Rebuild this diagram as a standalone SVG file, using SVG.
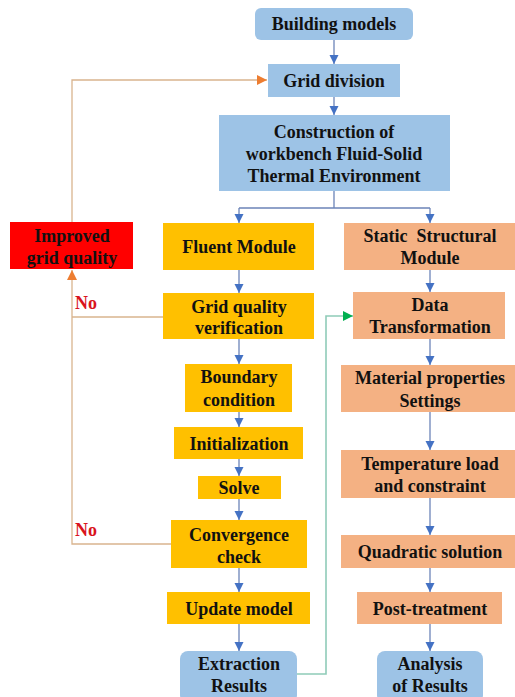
<svg xmlns="http://www.w3.org/2000/svg" width="515" height="697" viewBox="0 0 515 697">
<style>
text{font-family:'Liberation Serif','Times New Roman',serif;font-weight:bold;font-size:18px;fill:#111;text-anchor:middle;white-space:pre}
.blue{fill:#9DC3E6}
.yel{fill:#FFC000}
.sal{fill:#F4B183}
.red{fill:#FF0000}
.no{fill:#D9141C;text-anchor:start;font-size:18px}
.c{fill:none;stroke:#6C84B8;stroke-width:1.3}
.o{fill:none;stroke:#D9B48E;stroke-width:1.3}
.g{fill:none;stroke:#8FCBB8;stroke-width:1.6}
</style>
<defs>
<marker id="ab" markerWidth="10" markerHeight="10" refX="9" refY="5" orient="auto" markerUnits="userSpaceOnUse"><path d="M0,0.5 L9,5 L0,9.5 Z" fill="#4472C4"/></marker>
<marker id="ao" markerWidth="12" markerHeight="12" refX="10" refY="6" orient="auto" markerUnits="userSpaceOnUse"><path d="M0,1 L10,6 L0,11 Z" fill="#ED7D31"/></marker>
<marker id="ag" markerWidth="12" markerHeight="12" refX="10" refY="6" orient="auto" markerUnits="userSpaceOnUse"><path d="M0,1 L10,6 L0,11 Z" fill="#00B050"/></marker>
</defs>
<rect width="515" height="697" fill="#fff"/>
<g id="connectors">
<path class="c" d="M334,40 V64" marker-end="url(#ab)"/>
<path class="c" d="M334,97 V115" marker-end="url(#ab)"/>
<path class="c" d="M334,191 V208 M239,208 H430"/>
<path class="c" d="M239,208 V223" marker-end="url(#ab)"/>
<path class="c" d="M430,208 V223" marker-end="url(#ab)"/>
<path class="c" d="M239,270 V293" marker-end="url(#ab)"/>
<path class="c" d="M239,339 V364" marker-end="url(#ab)"/>
<path class="c" d="M239,412 V427" marker-end="url(#ab)"/>
<path class="c" d="M239,459 V476" marker-end="url(#ab)"/>
<path class="c" d="M239,499 V520" marker-end="url(#ab)"/>
<path class="c" d="M239,568 V592" marker-end="url(#ab)"/>
<path class="c" d="M239,624 V651" marker-end="url(#ab)"/>
<path class="c" d="M430,270 V292" marker-end="url(#ab)"/>
<path class="c" d="M430,339 V365" marker-end="url(#ab)"/>
<path class="c" d="M430,412 V450" marker-end="url(#ab)"/>
<path class="c" d="M430,498 V535" marker-end="url(#ab)"/>
<path class="c" d="M430,568 V592" marker-end="url(#ab)"/>
<path class="c" d="M430,624 V651" marker-end="url(#ab)"/>
<path class="o" d="M163,317 H72"/>
<path class="o" d="M171,544 H72 V270" marker-end="url(#ao)"/>
<path class="o" d="M72,222 V80 H267" marker-end="url(#ao)"/>
<path class="g" d="M297,674 H326 V316 H353" marker-end="url(#ag)"/>
<text class="no" x="75" y="309">No</text>
<text class="no" x="75" y="536">No</text>
</g>
<g id="building-models"><rect class="blue" x="255" y="8" width="158" height="32" rx="6"/><text x="334" y="30">Building models</text></g>
<g id="grid-division"><rect class="blue" x="268" y="64" width="132" height="33"/><text x="334" y="87">Grid division</text></g>
<g id="construction"><rect class="blue" x="219" y="115" width="231" height="76"/><text x="334" y="138">Construction of</text><text x="334" y="160">workbench Fluid-Solid</text><text x="334" y="182">Thermal Environment</text></g>
<g id="improved-grid"><rect class="red" x="10" y="222" width="123" height="47"/><text x="72" y="242">Improved</text><text x="72" y="264">grid quality</text></g>
<g id="fluent-module"><rect class="yel" x="163" y="223" width="151" height="47"/><text x="239" y="253">Fluent Module</text></g>
<g id="static-structural"><rect class="sal" x="344" y="223" width="171" height="47"/><text x="430" y="242">Static  Structural</text><text x="430" y="264">Module</text></g>
<g id="grid-quality-verification"><rect class="yel" x="163" y="293" width="151" height="46"/><text x="239" y="313">Grid quality</text><text x="239" y="334">verification</text></g>
<g id="data-transformation"><rect class="sal" x="353" y="292" width="152" height="47"/><text x="430" y="311">Data</text><text x="430" y="333">Transformation</text></g>
<g id="boundary-condition"><rect class="yel" x="185" y="364" width="107" height="48"/><text x="239" y="383">Boundary</text><text x="239" y="406">condition</text></g>
<g id="material-properties"><rect class="sal" x="341" y="365" width="174" height="47"/><text x="430" y="384">Material properties</text><text x="430" y="407">Settings</text></g>
<g id="initialization"><rect class="yel" x="174" y="427" width="129" height="32"/><text x="239" y="450">Initialization</text></g>
<g id="temperature-load"><rect class="sal" x="341" y="450" width="174" height="48"/><text x="430" y="470">Temperature load</text><text x="430" y="492">and constraint</text></g>
<g id="solve"><rect class="yel" x="198" y="476" width="83" height="23"/><text x="239" y="494">Solve</text></g>
<g id="convergence-check"><rect class="yel" x="171" y="520" width="136" height="48"/><text x="239" y="541">Convergence</text><text x="239" y="563">check</text></g>
<g id="quadratic-solution"><rect class="sal" x="341" y="535" width="174" height="33"/><text x="430" y="558">Quadratic solution</text></g>
<g id="update-model"><rect class="yel" x="167" y="592" width="143" height="32"/><text x="239" y="615">Update model</text></g>
<g id="post-treatment"><rect class="sal" x="357" y="592" width="145" height="32"/><text x="430" y="615">Post-treatment</text></g>
<g id="extraction-results"><rect class="blue" x="180" y="651" width="117" height="52" rx="8"/><text x="239" y="670">Extraction</text><text x="239" y="692">Results</text></g>
<g id="analysis-results"><rect class="blue" x="377" y="651" width="106" height="52" rx="8"/><text x="430" y="670">Analysis</text><text x="430" y="692">of Results</text></g>
</svg>
